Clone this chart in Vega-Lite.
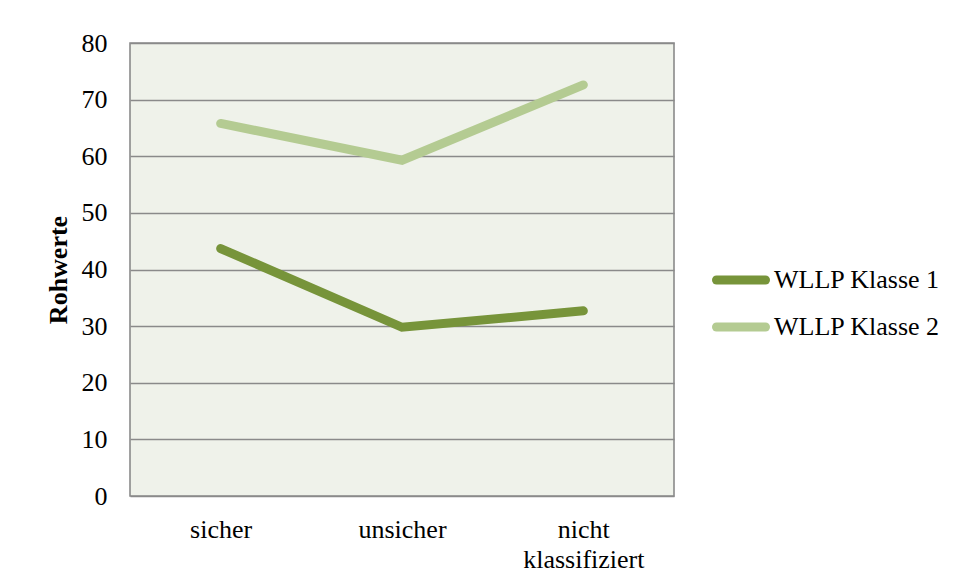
{
  "$schema": "https://vega.github.io/schema/vega-lite/v6.json",
  "width": 544,
  "height": 453,
  "autosize": {"type": "none"},
  "padding": {"left": 130, "top": 43, "right": 284, "bottom": 86},
  "background": "white",
  "data": {
    "values": [
      {"kategorie": "sicher", "gruppe": "WLLP Klasse 1", "rohwert": 43.7},
      {"kategorie": "unsicher", "gruppe": "WLLP Klasse 1", "rohwert": 29.8},
      {"kategorie": "nicht klassifiziert", "gruppe": "WLLP Klasse 1", "rohwert": 32.7},
      {"kategorie": "sicher", "gruppe": "WLLP Klasse 2", "rohwert": 65.8},
      {"kategorie": "unsicher", "gruppe": "WLLP Klasse 2", "rohwert": 59.3},
      {"kategorie": "nicht klassifiziert", "gruppe": "WLLP Klasse 2", "rohwert": 72.6}
    ]
  },
  "mark": {"type": "line", "strokeWidth": 9, "strokeCap": "round", "strokeJoin": "miter"},
  "encoding": {
    "x": {
      "field": "kategorie",
      "type": "nominal",
      "sort": ["sicher", "unsicher", "nicht klassifiziert"],
      "scale": {"paddingInner": 0, "paddingOuter": 0.5},
      "axis": {
        "title": null,
        "labelAngle": 0,
        "ticks": false,
        "domain": false,
        "grid": false,
        "labelPadding": 20,
        "labelBaseline": "top",
        "labelLineHeight": 30,
        "labelExpr": "datum.label == 'nicht klassifiziert' ? ['nicht', 'klassifiziert'] : datum.label"
      }
    },
    "y": {
      "field": "rohwert",
      "type": "quantitative",
      "scale": {"domain": [0, 80], "nice": false},
      "axis": {
        "title": "Rohwerte",
        "titleFontWeight": "bold",
        "titlePadding": 10,
        "values": [0, 10, 20, 30, 40, 50, 60, 70, 80],
        "ticks": false,
        "domain": false,
        "labelPadding": 23,
        "gridColor": "#8a8a8a",
        "gridWidth": 1.6,
        "gridOpacity": 1
      }
    },
    "color": {
      "field": "gruppe",
      "type": "nominal",
      "scale": {"domain": ["WLLP Klasse 1", "WLLP Klasse 2"], "range": ["#77943a", "#b4cb92"]},
      "legend": {
        "title": null,
        "orient": "none",
        "legendX": 582,
        "legendY": 208,
        "symbolType": "stroke",
        "symbolSize": 2401,
        "symbolStrokeWidth": 9,
        "labelOffset": 4,
        "rowPadding": -6,
        "encode": {"symbols": {"update": {"strokeCap": {"value": "round"}}}}
      }
    }
  },
  "config": {
    "font": "Liberation Serif",
    "view": {"fill": "#eff2ea", "stroke": "#8a8a8a", "strokeWidth": 1.6},
    "axis": {"labelFont": "Liberation Serif", "labelFontSize": 26, "labelColor": "black", "titleFont": "Liberation Serif", "titleFontSize": 26, "titleColor": "black"},
    "legend": {"labelFont": "Liberation Serif", "labelFontSize": 26, "labelColor": "black", "labelLimit": 400}
  }
}
